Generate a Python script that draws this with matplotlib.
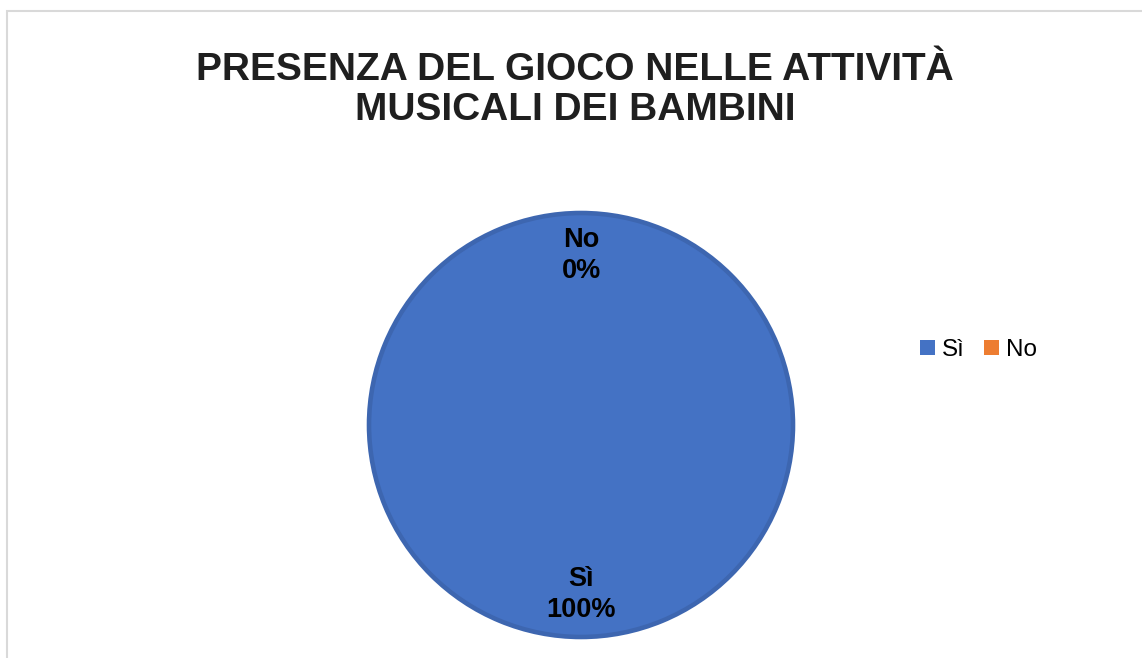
import matplotlib.pyplot as plt
from matplotlib.patches import Rectangle

# === Data ===
categories = ["Sì", "No"]
values = [100, 0]
colors = ["#4472C4", "#ED7D31"]
title = "PRESENZA DEL GIOCO NELLE ATTIVITÀ\nMUSICALI DEI BAMBINI"

plt.rcParams["font.family"] = ["Liberation Sans", "DejaVu Sans"]

fig = plt.figure(figsize=(11.42, 6.58), dpi=100)

# chart border (light grey, top and left visible)
fig.patches.append(Rectangle((6.5 / 1142, -0.01), 1.05, (658 - 10.5) / 658 + 0.01,
                             transform=fig.transFigure, fill=False,
                             edgecolor="#d9d9d9", linewidth=1.5))

fig.text(575 / 1142, 1 - 90 / 658, title, ha="center", va="center",
         fontsize=28, fontweight="bold", color="#1f1f1f", linespacing=1.12)

# === Pie ===
r_px = 212
cx, cy = 581, 425
ax = fig.add_axes([(cx - r_px) / 1142, 1 - (cy + r_px) / 658,
                   2 * r_px / 1142, 2 * r_px / 658])
total = sum(values)
labels = [f"{c}\n{round(v / total * 100)}%" for c, v in zip(categories, values)]
wedges, texts = ax.pie(values, colors=colors, startangle=90, counterclock=False,
                       labels=labels, labeldistance=0.8,
                       wedgeprops=dict(edgecolor="#3D66B0", linewidth=3.3))
for w, v in zip(wedges, values):
    if v == 0:
        w.set_linewidth(0)
for t in texts:
    t.set_ha("center")
    t.set_va("center")
    t.set_fontsize(19.5)
    t.set_fontweight("bold")
    t.set_color("#000000")
    t.set_linespacing(1.22)
ax.set_xlim(-1.0, 1.0)
ax.set_ylim(-1.0, 1.0)
ax.set_aspect("auto")
ax.axis("off")

# === Legend ===
handles = [Rectangle((0, 0), 1, 1, facecolor=c, edgecolor="none") for c in colors]
fig.legend(handles, categories, loc="center left",
           bbox_to_anchor=(920 / 1142, 1 - 350 / 658), ncol=2, frameon=False,
           fontsize=17.5, handlelength=0.6, handleheight=0.6, handletextpad=0.3,
           columnspacing=0.8, borderaxespad=0, borderpad=0)

fig.savefig("out.png", dpi=100, facecolor="white")
